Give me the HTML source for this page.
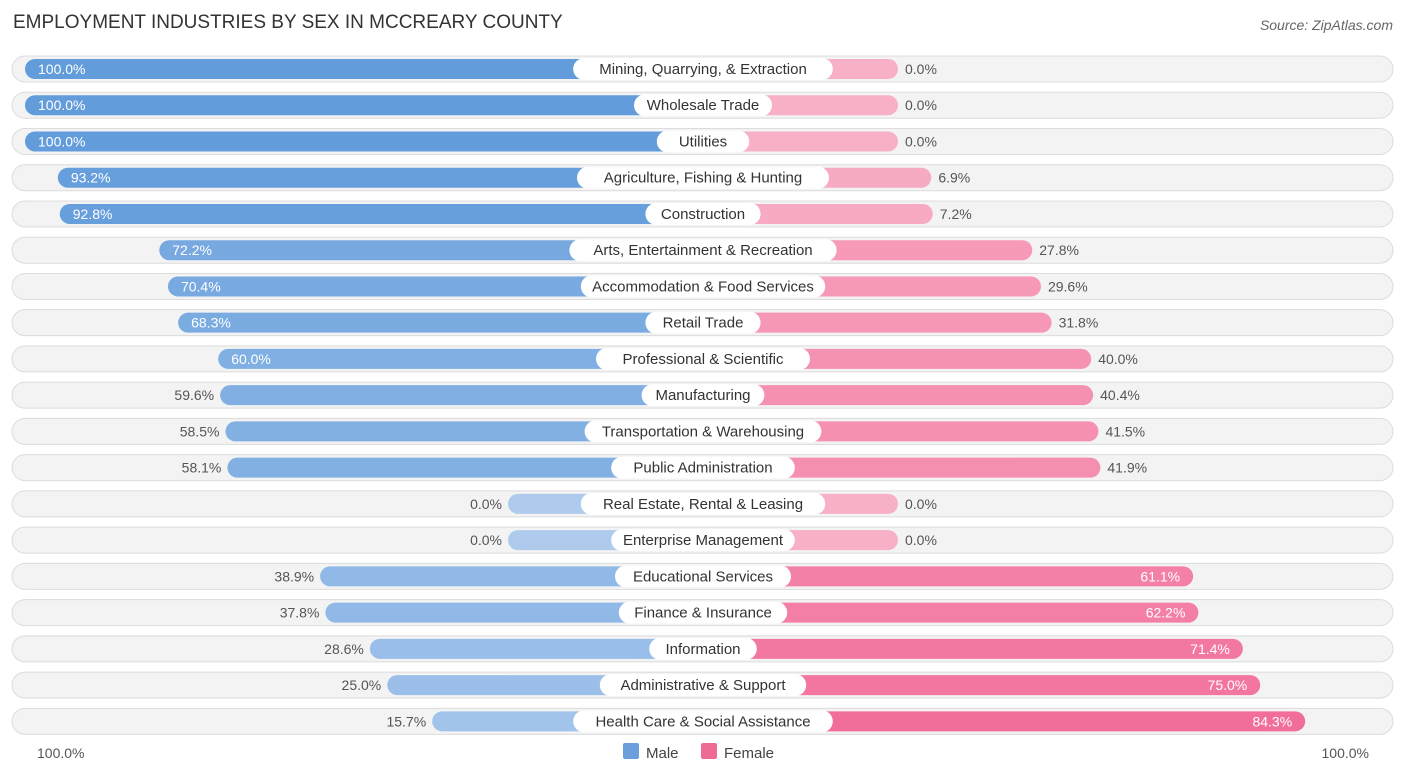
<!DOCTYPE html>
<html><head><meta charset="utf-8"><style>
body{margin:0;background:#fff;font-family:"Liberation Sans",sans-serif;}
</style></head><body>
<svg id="chart" width="1406" height="776" xmlns="http://www.w3.org/2000/svg" font-family="Liberation Sans, sans-serif">
<text x="13" y="28" font-size="19" fill="#333">EMPLOYMENT INDUSTRIES BY SEX IN MCCREARY COUNTY</text>
<text x="1393" y="30" font-size="14" fill="#666" text-anchor="end" font-style="italic">Source: ZipAtlas.com</text>
<g id="rows"></g>
<text x="37" y="758" font-size="14" fill="#555">100.0%</text>
<text x="1369" y="758" font-size="14" fill="#555" text-anchor="end">100.0%</text>
<g>
<rect x="623" y="743" width="16" height="16" rx="2" fill="#6a9fdc"/>
<text x="646" y="758" font-size="15" fill="#444">Male</text>
<rect x="701" y="743" width="16" height="16" rx="2" fill="#f06a96"/>
<text x="724" y="758" font-size="15" fill="#444">Female</text>
</g>
</svg>
<script>
const categories=["Mining, Quarrying, & Extraction","Wholesale Trade","Utilities","Agriculture, Fishing & Hunting","Construction","Arts, Entertainment & Recreation","Accommodation & Food Services","Retail Trade","Professional & Scientific","Manufacturing","Transportation & Warehousing","Public Administration","Real Estate, Rental & Leasing","Enterprise Management","Educational Services","Finance & Insurance","Information","Administrative & Support","Health Care & Social Assistance"];
const maleValues=[100,100,100,93.2,92.8,72.2,70.4,68.3,60.0,59.6,58.5,58.1,0,0,38.9,37.8,28.6,25.0,15.7];
const femaleValues=[0,0,0,6.9,7.2,27.8,29.6,31.8,40.0,40.4,41.5,41.9,0,0,61.1,62.2,71.4,75.0,84.3];
const NS="http://www.w3.org/2000/svg";
const g=document.getElementById('rows');
const cx=703, base=195, k=4.83, y0=69, dy=36.24;
function len(v){return base+v*k;}
function mix(a,b,t){return 'rgb('+a.map((x,i)=>Math.round(x+(b[i]-x)*t)).join(',')+')';}
function mk(tag,attrs){const e=document.createElementNS(NS,tag);for(const a in attrs)e.setAttribute(a,attrs[a]);return e;}
categories.forEach((c,i)=>{
  const y=y0+i*dy;
  const bg=mk('rect',{x:12,y:y-13,width:1381,height:26,rx:13,fill:'#f3f3f3',stroke:'#dcdcdc'});
  
  
  g.appendChild(bg);
  const m=maleValues[i], f=femaleValues[i];
  const ml=len(m), fl=len(f);
  const mb=mk('rect',{x:cx-ml,y:y-10,width:ml,height:20,rx:10,fill:mix([174,203,238],[98,156,219],m/100)});
  
  
  g.appendChild(mb);
  const fb=mk('rect',{x:cx,y:y-10,width:fl,height:20,rx:10,fill:mix([248,176,198],[240,98,146],f/100)});
  
  
  g.appendChild(fb);
  const w=c.length*7.6+24;
  const pill=mk('rect',{x:cx-w/2,y:y-11,width:w,height:22,rx:11,fill:'#fff'});
  
  
  g.appendChild(pill);
  const t=mk('text',{x:cx,y:y+5,'font-size':15,fill:'#333','text-anchor':'middle'});
  t.textContent=c;
  
  
  g.appendChild(t);
  const mIn=m>=60;
  const mt=mk('text',{x:mIn?cx-ml+13:cx-ml-6,y:y+5,'font-size':14,fill:mIn?'#fff':'#555','text-anchor':mIn?'start':'end'});
  mt.textContent=m.toFixed(1)+'%';
  
  
  g.appendChild(mt);
  const fIn=f>=60;
  const ft=mk('text',{x:fIn?cx+fl-13:cx+fl+7,y:y+5,'font-size':14,fill:fIn?'#fff':'#555','text-anchor':fIn?'end':'start'});
  ft.textContent=f.toFixed(1)+'%';
  
  
  g.appendChild(ft);
});
</script>
</body></html>
